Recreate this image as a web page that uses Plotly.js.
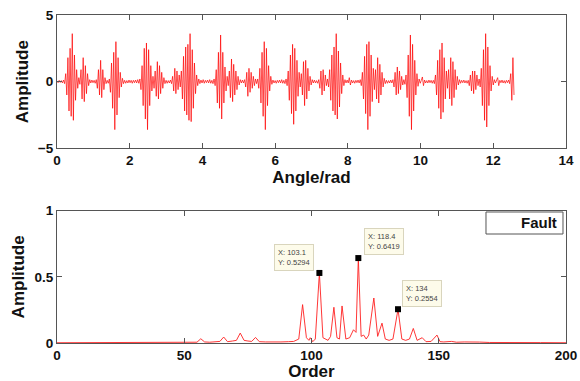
<!DOCTYPE html>
<html>
<head>
<meta charset="utf-8">
<script src="https://cdn.plot.ly/plotly-3.0.1.min.js"></script>
<style>
  html, body { margin: 0; padding: 0; background: #fff; }
  #chart { width: 580px; height: 381px; }
</style>
</head>
<body>
<div id="chart"></div>
<script>
// ---- Top panel: vibration signal, sampled every 0.03 rad from 0 rad ----
const angleStart = 0;
const angleStep = 0.03;
const signalAmp = [
  0.05,-0.08,0.1,-0.06,0.08,-0.1,0.12,-0.15,0.6,-1.0,
  1.8,-2.2,2.5,-2.6,3.6,-2.9,2.0,-1.4,0.9,-0.5,
  0.3,-0.2,0.9,-1.3,1.8,-1.5,1.2,-0.9,0.6,-0.3,
  0.15,-0.1,0.12,-0.08,0.1,-0.12,0.15,-0.5,0.9,-1.0,
  1.6,-1.2,0.9,-0.6,0.3,-0.15,0.1,-0.12,0.2,-0.8,
  1.4,-2.0,2.2,-3.6,3.0,-2.5,1.8,-1.2,0.7,-0.4,
  0.25,-0.15,0.1,-0.12,0.08,-0.1,0.12,-0.08,0.1,-0.12,
  0.1,-0.08,0.12,-0.1,0.15,-0.12,0.2,-0.6,1.2,-1.8,
  2.5,-2.8,2.9,-3.6,2.4,-1.8,1.2,-0.7,0.4,-0.5,
  0.8,-1.1,1.5,-1.3,1.2,-0.9,0.7,-0.5,0.3,-0.15,
  0.1,-0.12,0.08,-0.1,0.12,-0.15,0.4,-0.7,1.0,-0.9,
  0.8,-0.6,0.5,-0.4,0.8,-1.3,1.9,-2.2,2.6,-2.5,
  2.8,-2.9,3.6,-3.0,2.4,-2.0,1.4,-0.9,0.5,-0.3,
  0.2,-0.15,0.12,-0.1,0.15,-0.12,0.1,-0.08,0.12,-0.1,
  0.15,-0.12,0.1,-0.15,0.2,-0.3,0.9,-1.6,2.2,-2.0,
  3.5,-2.8,2.2,-1.6,1.1,-0.7,0.4,-0.3,0.8,-1.2,
  1.7,-1.5,1.3,-1.0,0.8,-0.6,0.4,-0.25,0.15,-0.1,
  0.12,-0.1,0.15,-0.4,0.7,-1.1,1.0,-0.8,0.7,-0.5,
  0.4,-0.3,0.2,-0.15,0.2,-0.5,1.0,-1.6,2.2,-2.6,
  3.0,-3.6,2.5,-1.8,1.2,-0.7,0.4,-0.2,0.12,-0.1,
  0.08,-0.12,0.1,-0.08,0.12,-0.1,0.15,-0.12,0.1,-0.15,
  0.2,-0.3,0.8,-1.4,2.0,-2.4,2.8,-3.2,2.5,-2.2,
  1.6,-1.1,0.7,-0.4,0.6,-1.0,1.5,-1.8,1.6,-1.3,
  1.0,-0.7,0.4,-0.25,0.15,-0.1,0.12,-0.1,0.08,-0.12,
  0.15,-0.5,0.8,-1.0,0.9,-0.7,0.5,-0.3,0.2,-0.4,
  0.9,-1.4,2.0,-2.2,2.6,-2.5,3.6,-2.8,2.3,-1.9,
  1.4,-0.9,0.5,-0.3,0.15,-0.1,0.12,-0.1,0.3,-0.25,
  0.12,-0.1,0.08,-0.12,0.1,-0.08,0.12,-0.1,0.15,-0.3,
  0.7,-1.3,1.9,-2.4,2.8,-3.6,3.0,-2.6,2.0,-1.5,
  1.0,-0.6,0.9,-1.3,1.8,-1.6,1.3,-1.0,0.7,-0.4,
  0.25,-0.15,0.1,-0.12,0.08,-0.1,0.12,-0.1,0.15,-0.4,
  0.7,-1.0,1.1,-0.9,0.8,-0.6,0.4,-0.25,0.15,-0.2,
  0.5,-1.2,2.0,-2.6,3.5,-3.6,2.8,-2.2,1.6,-1.0,
  0.6,-0.35,0.2,-0.12,0.1,0.35,-0.3,0.12,-0.1,0.08,
  -0.1,0.12,-0.08,0.1,-0.12,0.1,-0.15,0.5,-1.0,1.6,
  -2.0,2.4,-2.8,2.9,-2.3,1.8,-1.3,0.8,-0.5,0.9,
  -1.3,1.8,-1.8,1.5,-1.2,0.9,-0.6,0.4,-0.25,0.15,
  -0.12,0.1,-0.08,0.12,-0.1,0.08,-0.12,0.1,-0.3,0.5,
  -0.7,0.8,-0.9,0.8,-0.6,0.5,-0.3,0.2,-0.4,1.0,
  -1.8,2.4,-2.9,3.6,-3.4,2.6,-1.8,1.2,-0.7,0.4,
  -0.25,0.15,-0.1,0.12,0.3,-0.3,0.1,-0.08,0.12,-0.1,
  0.08,-0.12,0.1,-0.08,0.12,-0.15,0.6,-1.4,1.8,-1.0
];

// ---- Bottom panel: order spectrum ----
const orders = [
  0,10,20,30,40,41,42,50,55,56.5,58,60,62,64,65.5,67,69,70.5,72,73.5,
  75,76.5,78,79.5,82,85,88,91,93,95,96.5,98,99,99.5,100.5,101.5,103.1,104.5,105.5,106.5,
  107.5,108.8,110,111,112,113.5,115,116.5,117.5,118.4,119.5,120.5,121.5,122.5,124.5,126,127.7,129,130.5,132,
  134,135.5,137,138.5,140,141.5,143.5,145,147,149.3,150.5,152,155,157,160,163,166,170,175,180,
  190,200
];
const spectrumAmp = [
  0.002,0.003,0.002,0.003,0.004,0.008,0.003,0.004,0.006,0.032,0.008,0.006,0.01,0.012,0.045,0.01,0.015,0.02,0.075,0.02,
  0.015,0.012,0.042,0.01,0.008,0.006,0.008,0.01,0.012,0.03,0.29,0.04,0.02,0.04,0.01,0.03,0.5294,0.04,0.03,0.02,
  0.05,0.27,0.04,0.03,0.28,0.03,0.04,0.1,0.08,0.6419,0.05,0.06,0.03,0.06,0.34,0.05,0.15,0.03,0.02,0.03,
  0.2554,0.03,0.02,0.03,0.11,0.02,0.04,0.01,0.012,0.06,0.01,0.008,0.012,0.006,0.008,0.005,0.007,0.004,0.005,0.003,
  0.003,0.002
];

// ---- Data tips ----
const tipOrders = [103.1, 118.4, 134];
const tipAmps = [0.5294, 0.6419, 0.2554];
const tipLabels = ['X: 103.1<br>Y: 0.5294', 'X: 118.4<br>Y: 0.6419', 'X: 134<br>Y: 0.2554'];
const legendLabel = 'Fault';

const FONT = 'Liberation Sans, Arial, Helvetica, sans-serif';
const tickFont = { family: FONT, size: 13.5, color: '#111', weight: 'bold' };
const titleFont = { family: FONT, size: 17, color: '#111', weight: 'bold' };
const axisCommon = {
  showline: true, linecolor: '#555', linewidth: 1, mirror: 'ticks',
  ticks: 'inside', ticklen: 5, tickcolor: '#555', tickwidth: 1,
  showgrid: false, zeroline: false, tickfont: tickFont, fixedrange: true
};

const traces = [
  { type: 'scatter', mode: 'lines', x0: angleStart, dx: angleStep, y: signalAmp,
    xaxis: 'x', yaxis: 'y', line: { color: '#ff0000', width: 0.7 }, showlegend: false, hoverinfo: 'skip' },
  { type: 'scatter', mode: 'lines', x: orders, y: spectrumAmp,
    xaxis: 'x2', yaxis: 'y2', line: { color: '#ff2020', width: 0.9 }, showlegend: false, hoverinfo: 'skip' },
  { type: 'scatter', mode: 'markers', x: tipOrders, y: tipAmps,
    xaxis: 'x2', yaxis: 'y2', marker: { symbol: 'square', size: 6, color: '#000' }, showlegend: false, hoverinfo: 'skip' }
];

const tipShift = [
  { xanchor: 'right', xshift: -5, yshift: 2 },
  { xanchor: 'left', xshift: 6, yshift: 3 },
  { xanchor: 'left', xshift: 4, yshift: 2 }
];
const annotations = tipLabels.map((t, i) => ({
  xref: 'x2', yref: 'y2', x: tipOrders[i], y: tipAmps[i], text: t, showarrow: false,
  xanchor: tipShift[i].xanchor, yanchor: 'bottom', xshift: tipShift[i].xshift, yshift: tipShift[i].yshift,
  align: 'left', bgcolor: '#fdfbea', bordercolor: '#d9d5bd', borderwidth: 1, borderpad: 3,
  font: { family: FONT, size: 7.5, color: '#444' }
}));
annotations.push({
  xref: 'paper', yref: 'paper', x: 0.9303, y: 0.3659, text: legendLabel, showarrow: false,
  xanchor: 'center', yanchor: 'middle', xshift: 8,
  font: { family: FONT, size: 15, color: '#111', weight: 'bold' }
});

const layout = {
  width: 580, height: 381,
  margin: { l: 57, r: 14, t: 15, b: 38 },
  paper_bgcolor: '#fff', plot_bgcolor: '#fff',
  showlegend: false,
  xaxis: Object.assign({}, axisCommon, {
    domain: [0, 1], anchor: 'y', range: [0, 14], dtick: 2, tick0: 0,
    title: { text: 'Angle/rad', font: titleFont, standoff: 2 }
  }),
  yaxis: Object.assign({}, axisCommon, {
    domain: [0.5936, 1], anchor: 'x', range: [-5, 5], dtick: 5, tick0: -5,
    title: { text: 'Amplitude', font: titleFont, standoff: 4 }
  }),
  xaxis2: Object.assign({}, axisCommon, {
    domain: [0, 1], anchor: 'y2', range: [0, 200], dtick: 50, tick0: 0,
    title: { text: 'Order', font: titleFont, standoff: 3 }
  }),
  yaxis2: Object.assign({}, axisCommon, {
    domain: [0, 0.4034], anchor: 'x2', range: [0, 1], dtick: 0.5, tick0: 0,
    title: { text: 'Amplitude', font: titleFont, standoff: 5 }
  }),
  shapes: [
    { type: 'rect', xref: 'paper', yref: 'paper', x0: 0.8428, x1: 0.9941, y0: 0.3323, y1: 0.3994,
      line: { color: '#555', width: 1 }, fillcolor: '#fff' }
  ],
  annotations: annotations
};

Plotly.newPlot('chart', traces, layout, { staticPlot: true, displayModeBar: false });
</script>
</body>
</html>
